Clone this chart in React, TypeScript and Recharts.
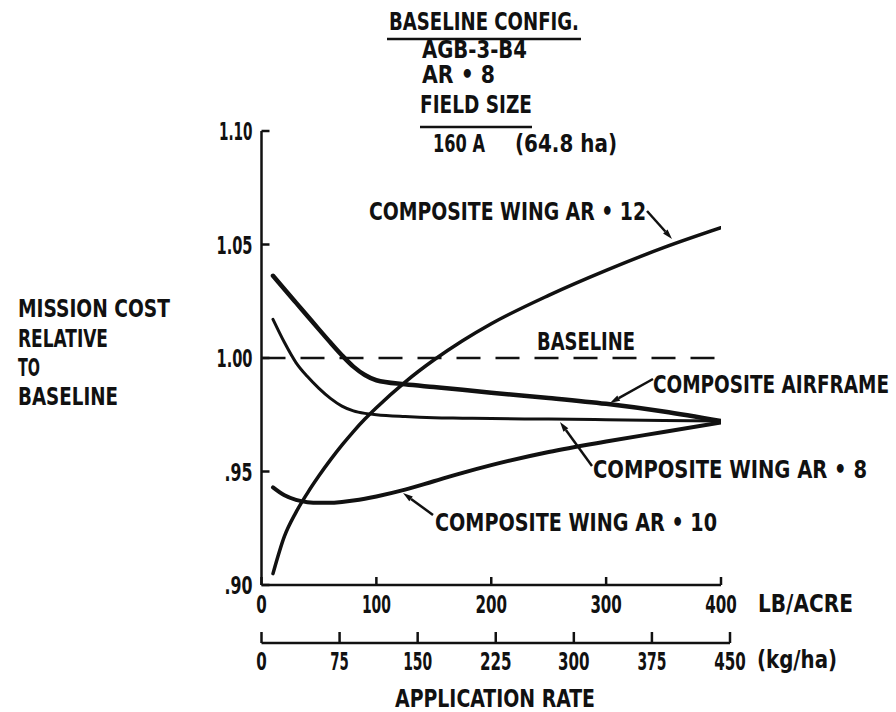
import React from 'react';
import { LineChart, Line, XAxis, YAxis, ReferenceLine } from 'recharts';

// application rate, lb/acre (sample points along the curves)
const RATE_LB = [10, 20, 30, 40, 50, 60, 70, 80, 90, 100, 125, 150, 175, 200, 250, 300, 350, 400];

// mission cost relative to baseline
const WING_AR12 = [0.905, 0.9215, 0.932, 0.9405, 0.9481, 0.9551, 0.9616, 0.9676, 0.9731, 0.9781, 0.9894, 0.9991, 1.0076, 1.0151, 1.0276, 1.0386, 1.0486, 1.0574];
const AIRFRAME = [1.0362, 1.0303, 1.0244, 1.0185, 1.0126, 1.0068, 1.0012, 0.9962, 0.9925, 0.9902, 0.9884, 0.9872, 0.986, 0.9847, 0.9824, 0.9798, 0.9764, 0.9722];
const WING_AR8 = [1.017, 1.0068, 0.998, 0.9918, 0.9866, 0.9822, 0.9788, 0.9767, 0.9756, 0.975, 0.9742, 0.9737, 0.9735, 0.9733, 0.9731, 0.9728, 0.9725, 0.9722];
const WING_AR10 = [0.943, 0.9395, 0.9375, 0.9365, 0.9362, 0.9362, 0.9366, 0.9372, 0.938, 0.939, 0.942, 0.9457, 0.9494, 0.9528, 0.9586, 0.9632, 0.9674, 0.9716];

const BASELINE = 1.0;
const LB_TICKS = [0, 100, 200, 300, 400];
const KG_TICKS = [0, 75, 150, 225, 300, 375, 450];
const COST_TICKS = [0.9, 0.95, 1.0, 1.05, 1.1];
const COST_LABELS = ['.90', '.95', '1.00', '1.05', '1.10'];

const data = RATE_LB.map((lb, i) => ({
  lb,
  ar12: WING_AR12[i],
  airframe: AIRFRAME[i],
  ar8: WING_AR8[i],
  ar10: WING_AR10[i],
}));

const INK = '#111';
const FONT = "'DejaVu Sans Condensed', 'DejaVu Sans', sans-serif";

// text layout (page coordinates, baseline y, drawn width)
const NOTES = [
  { t: 'BASELINE CONFIG.', x: 389, y: 30, w: 190 },
  { t: 'AGB-3-B4', x: 422, y: 58, w: 105 },
  { t: 'AR • 8', x: 422, y: 83, w: 73 },
  { t: 'FIELD SIZE', x: 420, y: 113, w: 112 },
  { t: '160 A', x: 433, y: 152, w: 52 },
  { t: '(64.8 ha)', x: 515, y: 152, w: 102 },
  { t: 'COMPOSITE WING AR • 12', x: 369, y: 220, w: 277 },
  { t: 'BASELINE', x: 537, y: 350, w: 98 },
  { t: 'COMPOSITE AIRFRAME', x: 653, y: 393, w: 236 },
  { t: 'COMPOSITE WING AR • 8', x: 593, y: 478, w: 274 },
  { t: 'COMPOSITE WING AR • 10', x: 435, y: 531, w: 282 },
  { t: 'MISSION COST', x: 18, y: 317, w: 152 },
  { t: 'RELATIVE', x: 18, y: 347, w: 90 },
  { t: 'TO', x: 18, y: 376, w: 22 },
  { t: 'BASELINE', x: 18, y: 405, w: 100 },
  { t: 'LB/ACRE', x: 758, y: 612, w: 95 },
  { t: '(kg/ha)', x: 757, y: 668, w: 80 },
  { t: 'APPLICATION RATE', x: 395, y: 707, w: 200 },
];

const LEADERS = [
  [647, 211, 672, 239],
  [653, 379, 610, 403],
  [592, 466, 560, 422],
  [433, 515, 403, 493],
];

const tickWidth = (s: string) =>
  s.split('').reduce((w, c) => w + (c === '.' ? 7 : c === '1' || c === '7' ? 8 : 10.5), 0);

const Lettering = ({ x, y, w, anchor = 'start', children }: any) => (
  <text
    x={x}
    y={y}
    textAnchor={anchor}
    textLength={w}
    lengthAdjust="spacingAndGlyphs"
    fontFamily={FONT}
    fontWeight="bold"
    fontSize={24}
    fill={INK}
  >
    {children}
  </text>
);

const CostTick = (props: any) => {
  const { x, y, payload } = props;
  const idx = COST_TICKS.indexOf(payload.value);
  const label = idx >= 0 ? COST_LABELS[idx] : String(payload.value);
  return (
    <g>
      <line x1={x} y1={y} x2={x + 8} y2={y} stroke={INK} strokeWidth={2.5} />
      <Lettering x={x - 9} y={y + 9} w={tickWidth(label)} anchor="end">{label}</Lettering>
    </g>
  );
};

const LbTick = (props: any) => {
  const { x, y, payload } = props;
  const label = String(payload.value);
  return (
    <g>
      <line x1={x} y1={y} x2={x} y2={y - 8} stroke={INK} strokeWidth={2.5} />
      <Lettering x={x} y={y + 28} w={tickWidth(label)} anchor="middle">{label}</Lettering>
    </g>
  );
};

const KgTick = (props: any) => {
  const { x, y, payload } = props;
  const label = String(payload.value);
  return (
    <g>
      <line x1={x} y1={y} x2={x} y2={y - 11} stroke={INK} strokeWidth={2.5} />
      <Lettering x={x} y={y + 27} w={tickWidth(label)} anchor="middle">{label}</Lettering>
    </g>
  );
};

const Leader = ({ x1, y1, x2, y2 }: any) => {
  const len = Math.hypot(x2 - x1, y2 - y1);
  const ux = (x2 - x1) / len;
  const uy = (y2 - y1) / len;
  const bx = x2 - ux * 10;
  const by = y2 - uy * 10;
  const px = -uy * 3;
  const py = ux * 3;
  return (
    <g>
      <line x1={x1} y1={y1} x2={bx} y2={by} stroke={INK} strokeWidth={2.5} />
      <polygon points={`${x2},${y2} ${bx + px},${by + py} ${bx - px},${by - py}`} fill={INK} />
    </g>
  );
};

const App: React.FC = () => {
  return (
    <div style={{ position: 'relative', width: 896, height: 712, background: '#fff' }}>
      <style>{'html, body { margin: 0; }'}</style>
      <LineChart
        width={896}
        height={712}
        data={data}
        margin={{ top: 131, right: 166, left: 201.5, bottom: 0 }}
      >
        <XAxis
          xAxisId={0}
          type="number"
          dataKey="lb"
          domain={[0, 400]}
          ticks={LB_TICKS}
          interval={0}
          padding={{ left: 0, right: 9 }}
          height={58}
          axisLine={false}
          tickLine={false}
          tickSize={0}
          tickMargin={0}
          tick={LbTick}
          allowDataOverflow
        />
        <XAxis
          xAxisId={1}
          type="number"
          dataKey="lb"
          domain={[0, 450]}
          ticks={KG_TICKS}
          interval={0}
          height={69}
          axisLine={{ stroke: INK, strokeWidth: 2.5 }}
          tickLine={false}
          tickSize={0}
          tickMargin={0}
          tick={KgTick}
          allowDataOverflow
        />
        <YAxis
          type="number"
          domain={[0.9, 1.1]}
          ticks={COST_TICKS}
          interval={0}
          width={60}
          axisLine={{ stroke: INK, strokeWidth: 2.5 }}
          tickLine={false}
          tickSize={0}
          tickMargin={0}
          tick={CostTick}
          allowDataOverflow
        />
        <ReferenceLine
          xAxisId={0}
          segment={[{ x: 0, y: 0.9 }, { x: 400, y: 0.9 }]}
          stroke={INK}
          strokeWidth={2.5}
        />
        <ReferenceLine
          xAxisId={0}
          segment={[{ x: 0, y: BASELINE }, { x: 400, y: BASELINE }]}
          stroke={INK}
          strokeWidth={2.5}
          strokeDasharray="24 15"
        />
        <Line xAxisId={0} type="monotone" dataKey="ar12" stroke={INK} strokeWidth={3.5} dot={false} strokeLinecap="round" isAnimationActive={false} />
        <Line xAxisId={0} type="monotone" dataKey="airframe" stroke={INK} strokeWidth={4.5} dot={false} strokeLinecap="round" isAnimationActive={false} />
        <Line xAxisId={0} type="monotone" dataKey="ar8" stroke={INK} strokeWidth={3} dot={false} strokeLinecap="round" isAnimationActive={false} />
        <Line xAxisId={0} type="monotone" dataKey="ar10" stroke={INK} strokeWidth={4} dot={false} strokeLinecap="round" isAnimationActive={false} />
      </LineChart>
      <svg
        width={896}
        height={712}
        style={{ position: 'absolute', left: 0, top: 0, pointerEvents: 'none' }}
      >
        <line x1={387} y1={39} x2={581} y2={39} stroke={INK} strokeWidth={2.5} />
        <line x1={420} y1={127} x2={532} y2={127} stroke={INK} strokeWidth={2.5} />
        {NOTES.map((n, i) => (
          <Lettering key={i} x={n.x} y={n.y} w={n.w}>{n.t}</Lettering>
        ))}
        {LEADERS.map(([x1, y1, x2, y2], i) => (
          <Leader key={i} x1={x1} y1={y1} x2={x2} y2={y2} />
        ))}
      </svg>
    </div>
  );
};

export default App;
